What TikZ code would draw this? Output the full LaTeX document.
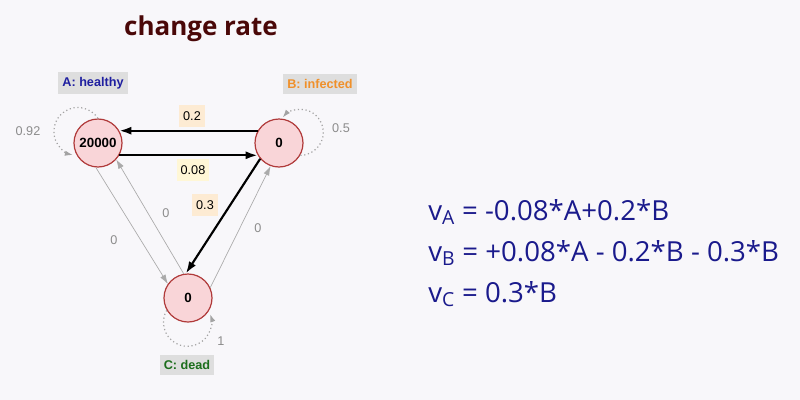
\documentclass[tikz,border=0pt]{standalone}
\usepackage{fontspec}
\setmainfont{Open Sans}
\newfontfamily\arialfont{Liberation Sans}
\usetikzlibrary{arrows.meta}
\definecolor{bgc}{HTML}{F8F7FA}
\definecolor{titlec}{HTML}{4A0808}
\definecolor{nodefill}{HTML}{F9D5D8}
\definecolor{nodedraw}{HTML}{B03A3A}
\definecolor{tagbg}{HTML}{DEDEDE}
\definecolor{acol}{HTML}{1F1FA0}
\definecolor{bcol}{HTML}{F0902A}
\definecolor{ccol}{HTML}{1C6E1C}
\definecolor{peach}{HTML}{FDEBD3}
\definecolor{paley}{HTML}{FFF7D6}
\definecolor{edgegray}{HTML}{AAAAAA}
\definecolor{labgray}{HTML}{8C8C8C}
\definecolor{eqcol}{HTML}{1A1A8C}
\tikzset{
  state/.style={circle,draw=nodedraw,line width=0.9pt,fill=nodefill,minimum size=36pt,inner sep=0pt,font=\arialfont\bfseries\fontsize{10}{12}\selectfont},
  tag/.style={fill=tagbg,inner xsep=3pt,inner ysep=4pt,font=\arialfont\bfseries\fontsize{9.5}{11}\selectfont},
  strong/.style={line width=1.6pt,black,-{Latex[length=9pt,width=6pt]}},
  weak/.style={line width=0.5pt,edgegray,-{Latex[length=7pt,width=4.5pt]}},
  selfloop/.style={line width=0.9pt,labgray!80,dotted,-{Latex[length=6pt,width=4pt]}},
  wlab/.style={text=labgray,font=\arialfont\fontsize{9.5}{11}\selectfont},
  elab/.style={inner sep=3pt,minimum height=17pt,font=\arialfont\fontsize{9.5}{11}\selectfont},
  eq/.style={anchor=base west,text=eqcol,inner sep=0pt,font=\fontsize{20.7}{24}\selectfont}
}
\begin{document}
\begin{tikzpicture}[x=0.75pt,y=-0.75pt]
\fill[bgc] (0,0) rectangle (800,400);
\useasboundingbox (0,0) rectangle (800,400);
\node[text=titlec,font=\bfseries\fontsize{19.5}{23}\selectfont] (title) at (201,29) {change rate};
\node[state] (A) at (98,143) {20000};
\node[state] (B) at (279,143) {0};
\node[state] (C) at (188,298) {0};
\node[tag,text=acol] (tA) at (93,83) {A: healthy};
\node[tag,text=bcol] (tB) at (320,84) {B: infected};
\node[tag,text=ccol] (tC) at (187,365) {C: dead};
% strong edges
\draw[strong] (B.150) -- (A.30);
\draw[strong] (A.-30) -- (B.-150);
\draw[strong] (B.-140) -- (C.95);
% weak edges
\draw[weak] (A.-95) -- (C.145);
\draw[weak] (C.100) -- (A.-42);
\draw[weak] (C.25) -- (B.-110);
% self loops (angles negated because the y axis points down)
\draw[selfloop] (A.90) arc[start angle=-33,end angle=-258,radius=24];
\draw[selfloop] (B.-30) arc[start angle=90,end angle=-140,radius=23];
\draw[selfloop] (C.210) arc[start angle=-150,end angle=-380,radius=24];
% labels
\node[elab,fill=peach] (l1) at (192,116) {0.2};
\node[elab,fill=paley] (l2) at (193,170) {0.08};
\node[elab,fill=peach] (l3) at (205,205) {0.3};
\node[wlab] (l4) at (28,131) {0.92};
\node[wlab] (l5) at (341,128) {0.5};
\node[wlab] (l6) at (114,240) {0};
\node[wlab] (l7) at (166,213) {0};
\node[wlab] (l8) at (258,228) {0};
\node[wlab] (l9) at (221,341) {1};
% equations
\node[eq] (e1) at (428,220) {v\textsubscript{A} = -0.08*A+0.2*B};
\node[eq] (e2) at (428,261) {v\textsubscript{B} = +0.08*A - 0.2*B - 0.3*B};
\node[eq] (e3) at (428,302) {v\textsubscript{C} = 0.3*B};
\end{tikzpicture}
\end{document}
